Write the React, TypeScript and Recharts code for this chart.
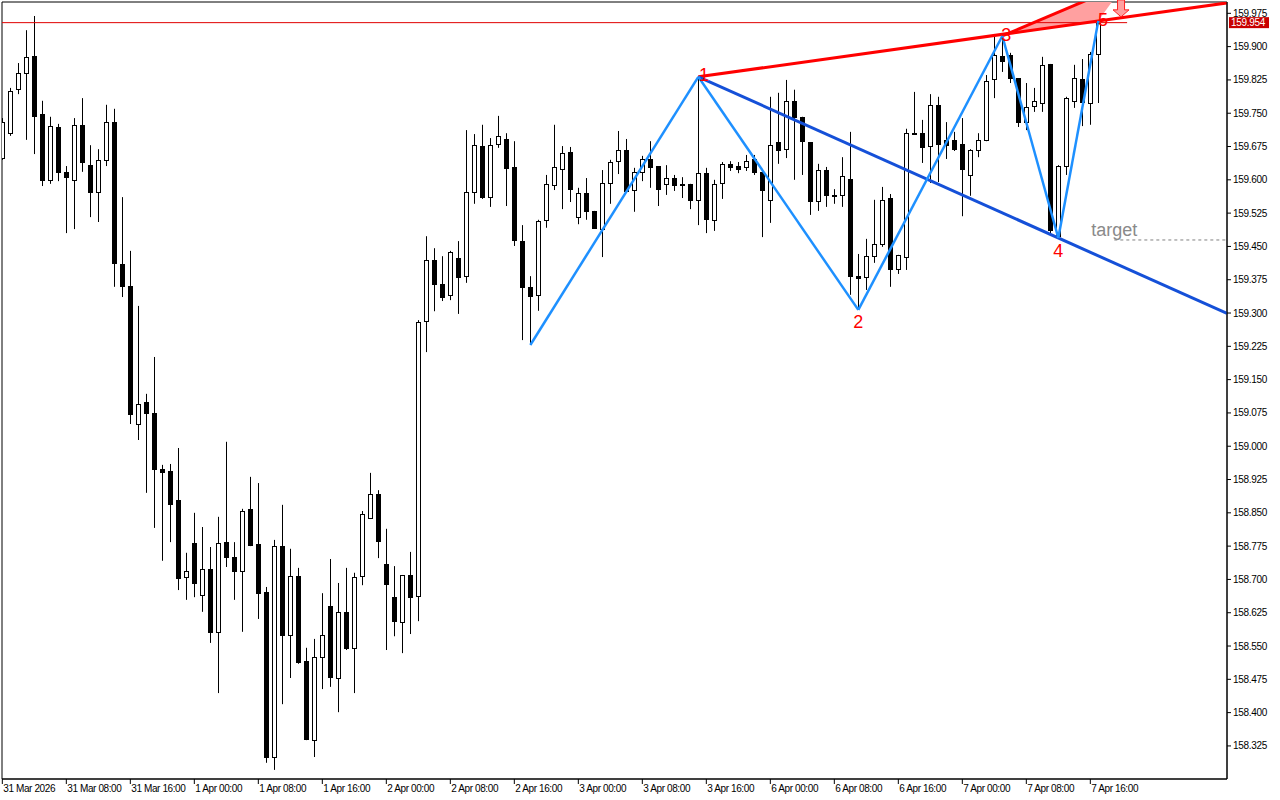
import React from 'react';
import {
  ComposedChart,
  Bar,
  Area,
  XAxis,
  YAxis,
  ReferenceLine,
  ReferenceDot,
  ReferenceArea,
} from 'recharts';

// hourly candles, 31 Mar 00:00 .. 7 Apr 17:00 (weekend skipped)
const opens = [
  159.649, 159.705, 159.805, 159.841, 159.879, 159.748, 159.6, 159.719, 159.618, 159.6,
  159.724, 159.633, 159.573, 159.645, 159.73, 159.41, 159.361, 159.05, 159.1, 159.075,
  158.949, 158.944, 158.879, 158.706, 158.782, 158.665, 158.724, 158.582, 158.784, 158.751,
  158.719, 158.859, 158.78, 158.672, 158.3, 158.775, 158.575, 158.708, 158.516, 158.338,
  158.525, 158.64, 158.478, 158.627, 158.546, 158.708, 158.838, 158.892, 158.735, 158.66,
  158.604, 158.71, 158.663, 159.282, 159.419, 159.365, 159.341, 159.424, 159.383, 159.573,
  159.676, 159.561, 159.681, 159.692, 159.629, 159.462, 159.359, 159.341, 159.51, 159.588,
  159.624, 159.663, 159.516, 159.57, 159.53, 159.489, 159.593, 159.642, 159.667, 159.577,
  159.618, 159.647, 159.631, 159.591, 159.604, 159.591, 159.591, 159.555, 159.615, 159.51,
  159.593, 159.636, 159.631, 159.629, 159.647, 159.618, 159.555, 159.685, 159.669, 159.778,
  159.742, 159.685, 159.552, 159.622, 159.566, 159.566, 159.602, 159.383, 159.381, 159.428,
  159.455, 159.559, 159.399, 159.426, 159.705, 159.705, 159.676, 159.769, 159.69, 159.69,
  159.681, 159.611, 159.667, 159.69, 159.827, 159.879, 159.881, 159.829, 159.73, 159.766,
  159.773, 159.861, 159.473, 159.631, 159.778, 159.827, 159.773, 159.883,
];
const highs = [
  159.739, 159.807, 159.863, 159.937, 159.969, 159.778, 159.742, 159.726, 159.631, 159.739,
  159.784, 159.678, 159.669, 159.769, 159.76, 159.561, 159.44, 159.316, 159.118, 159.201,
  158.958, 158.96, 158.996, 158.76, 158.85, 158.818, 158.773, 158.841, 159.01, 158.784,
  158.859, 158.931, 158.917, 158.683, 158.789, 158.868, 158.769, 158.726, 158.546, 158.566,
  158.669, 158.746, 158.692, 158.726, 158.715, 158.854, 158.94, 158.901, 158.814, 158.73,
  158.71, 158.762, 159.284, 159.473, 159.446, 159.428, 159.44, 159.462, 159.712, 159.703,
  159.724, 159.694, 159.744, 159.705, 159.687, 159.498, 159.383, 159.51, 159.611, 159.724,
  159.676, 159.674, 159.582, 159.604, 159.53, 159.622, 159.645, 159.71, 159.692, 159.627,
  159.654, 159.687, 159.631, 159.633, 159.611, 159.606, 159.591, 159.832, 159.627, 159.6,
  159.64, 159.642, 159.64, 159.656, 159.656, 159.622, 159.787, 159.796, 159.825, 159.803,
  159.742, 159.685, 159.636, 159.629, 159.579, 159.651, 159.708, 159.433, 159.467, 159.555,
  159.584, 159.568, 159.431, 159.715, 159.798, 159.735, 159.793, 159.787, 159.73, 159.708,
  159.739, 159.669, 159.705, 159.836, 159.922, 159.924, 159.886, 159.829, 159.818, 159.807,
  159.877, 159.861, 159.633, 159.787, 159.859, 159.872, 159.888, 159.958,
];
const lows = [
  159.645, 159.699, 159.793, 159.69, 159.658, 159.586, 159.591, 159.597, 159.48, 159.489,
  159.618, 159.516, 159.505, 159.631, 159.359, 159.336, 159.05, 159.014, 158.895, 158.816,
  158.742, 158.784, 158.676, 158.654, 158.66, 158.627, 158.557, 158.444, 158.728, 158.654,
  158.582, 158.775, 158.611, 158.287, 158.271, 158.419, 158.478, 158.51, 158.338, 158.3,
  158.453, 158.458, 158.401, 158.541, 158.444, 158.687, 158.836, 158.748, 158.541, 158.572,
  158.534, 158.577, 158.606, 159.212, 159.304, 159.327, 159.329, 159.298, 159.368, 159.546,
  159.557, 159.539, 159.672, 159.541, 159.451, 159.239, 159.228, 159.305, 159.492, 159.577,
  159.534, 159.55, 159.5, 159.51, 159.491, 159.426, 159.546, 159.613, 159.573, 159.528,
  159.597, 159.582, 159.541, 159.566, 159.575, 159.559, 159.534, 159.498, 159.48, 159.485,
  159.557, 159.62, 159.615, 159.62, 159.611, 159.471, 159.503, 159.636, 159.649, 159.6,
  159.611, 159.521, 159.53, 159.539, 159.546, 159.539, 159.341, 159.307, 159.352, 159.413,
  159.449, 159.359, 159.388, 159.397, 159.703, 159.638, 159.593, 159.595, 159.647, 159.665,
  159.518, 159.564, 159.651, 159.687, 159.784, 159.843, 159.818, 159.719, 159.712, 159.753,
  159.753, 159.48, 159.469, 159.611, 159.762, 159.721, 159.724, 159.773,
];
const closes = [
  159.73, 159.8, 159.841, 159.877, 159.744, 159.6, 159.721, 159.618, 159.606, 159.724,
  159.64, 159.573, 159.645, 159.73, 159.413, 159.361, 159.073, 159.095, 159.075, 158.949,
  158.942, 158.87, 158.703, 158.719, 158.692, 158.724, 158.582, 158.782, 158.751, 158.719,
  158.854, 158.778, 158.669, 158.3, 158.775, 158.575, 158.708, 158.514, 158.341, 158.525,
  158.575, 158.48, 158.627, 158.546, 158.706, 158.847, 158.892, 158.787, 158.69, 158.606,
  158.71, 158.66, 159.28, 159.419, 159.365, 159.336, 159.437, 159.381, 159.573, 159.678,
  159.561, 159.678, 159.699, 159.627, 159.465, 159.359, 159.338, 159.507, 159.591, 159.629,
  159.66, 159.579, 159.57, 159.53, 159.491, 159.593, 159.64, 159.667, 159.575, 159.618,
  159.647, 159.629, 159.579, 159.604, 159.588, 159.59, 159.555, 159.615, 159.512, 159.591,
  159.636, 159.629, 159.624, 159.642, 159.618, 159.577, 159.678, 159.667, 159.778, 159.742,
  159.687, 159.552, 159.622, 159.566, 159.564, 159.609, 159.383, 159.379, 159.428, 159.455,
  159.555, 159.399, 159.431, 159.705, 159.703, 159.674, 159.769, 159.681, 159.678, 159.669,
  159.624, 159.667, 159.69, 159.823, 159.881, 159.868, 159.829, 159.73, 159.764, 159.778,
  159.859, 159.487, 159.631, 159.784, 159.829, 159.775, 159.883, 159.954,
];

const priceTicks = [
  159.975, 159.9, 159.825, 159.75, 159.675, 159.6, 159.525, 159.45, 159.375, 159.3,
  159.225, 159.15, 159.075, 159.0, 158.925, 158.85, 158.775, 158.7, 158.625, 158.55,
  158.475, 158.4, 158.325,
];
const timeTicks = [0, 8, 16, 24, 32, 40, 48, 56, 64, 72, 80, 88, 96, 104, 112, 120, 128, 136];
const timeLabels = [
  '31 Mar 2026', '31 Mar 08:00', '31 Mar 16:00', '1 Apr 00:00', '1 Apr 08:00', '1 Apr 16:00',
  '2 Apr 00:00', '2 Apr 08:00', '2 Apr 16:00', '3 Apr 00:00', '3 Apr 08:00', '3 Apr 16:00',
  '6 Apr 00:00', '6 Apr 08:00', '6 Apr 16:00', '7 Apr 00:00', '7 Apr 08:00', '7 Apr 16:00',
];

// wave pivots: start, 1, 2, 3, 4, 5
const waveIdx = [66, 87, 107, 125, 132, 137];
const wavePrice = [159.228, 159.832, 159.307, 159.924, 159.469, 159.958];
const waveNames = ['1', '2', '3', '4', '5'];
const waveLabelIdx = [87.7, 107, 125.5, 132, 137.6];
const waveLabelPrice = [159.838, 159.28, 159.928, 159.44, 159.962];

// triangle: point 3, point 5, apex above the chart
const triIdx = [125, 137, 140.3];
const triLow = [159.924, 159.958, 160.041];
const triHigh = [159.924, 160.016, 160.041];

const lastPrice = 159.954;
const targetPrice = 159.4645;

const X_MIN = -0.04;
const X_MAX = 153.085;
const Y_MIN = 158.2505;
const Y_MAX = 160.0005;

const FONT = '"Liberation Sans", Arial, sans-serif';

const candles = opens.map((o, i) => ({ i, open: o, high: highs[i], low: lows[i], close: closes[i] }));
const triangle = triIdx.map((i, n) => ({ i, band: [triLow[n], triHigh[n]] }));

const Candle = (props: any) => {
  const { x, y, width, height, payload } = props;
  if (!payload || height == null) return null;
  const top = Math.min(y, y + height);
  const bottom = Math.max(y, y + height);
  const range = payload.high - payload.low || 1e-9;
  const toY = (v: number) => top + ((payload.high - v) / range) * (bottom - top);
  const mid = Math.round(x + width / 2);
  const up = payload.close >= payload.open;
  const yTop = Math.round(toY(Math.max(payload.open, payload.close)));
  const yBot = Math.round(toY(Math.min(payload.open, payload.close)));
  return (
    <g>
      <line x1={mid + 0.5} x2={mid + 0.5} y1={top} y2={bottom} stroke="#000" strokeWidth={1} />
      {up ? (
        <rect x={mid - 1.5} y={yTop + 0.5} width={4} height={Math.max(yBot - yTop, 1)} fill="#fff" stroke="#000" strokeWidth={1} />
      ) : (
        <rect x={mid - 2} y={yTop} width={5} height={Math.max(yBot - yTop + 1, 2)} fill="#000" />
      )}
    </g>
  );
};

const TimeTick = ({ x, y, payload }: any) => (
  <text x={x + 1} y={y} dy={8} fontSize={10} fontFamily={FONT} letterSpacing={-0.4} fill="#000" textAnchor="start">
    {timeLabels[timeTicks.indexOf(payload.value)]}
  </text>
);

const PriceBox = ({ cx, cy }: any) => (
  <g>
    <rect x={cx + 2} y={cy - 5.5} width={40} height={11} fill="#c80000" />
    <text x={cx + 4} y={cy} dy={3.5} fontSize={10} fontFamily={FONT} letterSpacing={-0.3} fill="#fff">
      {lastPrice.toFixed(3)}
    </text>
  </g>
);

const Arrow = ({ cx, cy }: any) => (
  <path
    d={`M${cx},${cy} L${cx - 8},${cy - 7} L${cx - 3.5},${cy - 7} L${cx - 3.5},${cy - 17} L${cx + 3.5},${cy - 17} L${cx + 3.5},${cy - 7} L${cx + 8},${cy - 7} Z`}
    fill="#ffa0a0"
    stroke="#ff2020"
    strokeWidth={1}
  />
);

const textShape = (txt: string, color: string, size: number) => ({ cx, cy }: any) => (
  <text x={cx} y={cy} dy={size * 0.36} textAnchor="middle" fontSize={size} fontFamily={FONT} fill={color}>
    {txt}
  </text>
);

export default function App() {
  return (
    <div style={{ position: 'absolute', left: 0, top: 0, width: 1280, height: 800, background: '#fff' }}>
      <ComposedChart
        width={1280}
        height={800}
        data={candles}
        margin={{ top: 2, right: 0, bottom: 0, left: 2 }}
      >
        <XAxis
          dataKey="i"
          type="number"
          domain={[X_MIN, X_MAX]}
          allowDataOverflow
          ticks={timeTicks}
          interval={0}
          height={21}
          tickSize={5}
          tickMargin={0}
          tick={<TimeTick />}
          axisLine={{ stroke: '#000' }}
          tickLine={{ stroke: '#000' }}
        />
        <YAxis
          orientation="right"
          type="number"
          domain={[Y_MIN, Y_MAX]}
          allowDataOverflow
          ticks={priceTicks}
          interval={0}
          width={53}
          tickSize={4}
          tickMargin={2}
          tickFormatter={(v: number) => v.toFixed(3)}
          tick={{ fontSize: 10, fontFamily: FONT, fill: '#000', letterSpacing: -0.3 }}
          axisLine={{ stroke: '#000' }}
          tickLine={{ stroke: '#000' }}
        />
        <ReferenceArea x1={X_MIN} x2={X_MAX} y1={Y_MIN} y2={Y_MAX} fill="none" stroke="#000" strokeWidth={1} ifOverflow="visible" />

        <Bar dataKey={(d: any) => [d.low, d.high]} barSize={5} shape={<Candle />} isAnimationActive={false} />

        <Area
          data={triangle}
          dataKey="band"
          type="linear"
          stroke="none"
          fill="#ffa0a0"
          fillOpacity={1}
          isAnimationActive={false}
        />

        {waveNames.map((name, n) => (
          <ReferenceDot
            key={`lbl-${name}`}
            x={waveLabelIdx[n]}
            y={waveLabelPrice[n]}
            r={0}
            ifOverflow="visible"
            shape={textShape(name, '#ff0000', 18)}
          />
        ))}

        <ReferenceLine
          segment={[{ x: X_MIN, y: lastPrice }, { x: 140.6, y: lastPrice }]}
          stroke="#e00000"
          strokeWidth={1}
          ifOverflow="hidden"
        />
        <ReferenceLine
          segment={[{ x: 139, y: targetPrice }, { x: X_MAX, y: targetPrice }]}
          stroke="#808080"
          strokeDasharray="3 3"
          strokeWidth={1}
          ifOverflow="hidden"
        />
        <ReferenceLine
          segment={[{ x: waveIdx[1], y: wavePrice[1] }, { x: X_MAX, y: 159.9985 }]}
          stroke="#ff0000"
          strokeWidth={3}
          ifOverflow="hidden"
        />
        <ReferenceLine
          segment={[{ x: triIdx[0], y: triHigh[0] }, { x: triIdx[2], y: triHigh[2] }]}
          stroke="#ff0000"
          strokeWidth={3}
          ifOverflow="hidden"
        />
        <ReferenceLine
          segment={[{ x: waveIdx[1], y: wavePrice[1] }, { x: X_MAX, y: 159.299 }]}
          stroke="#1550d8"
          strokeWidth={3}
          ifOverflow="hidden"
        />
        {waveIdx.slice(1).map((idx, n) => (
          <ReferenceLine
            key={`leg-${n}`}
            segment={[{ x: waveIdx[n], y: wavePrice[n] }, { x: idx, y: wavePrice[n + 1] }]}
            stroke="#1e90ff"
            strokeWidth={2.5}
            ifOverflow="hidden"
          />
        ))}

        <ReferenceDot x={139.84} y={159.967} r={0} ifOverflow="hidden" shape={<Arrow />} />
        <ReferenceDot x={139} y={159.487} r={0} ifOverflow="visible" shape={textShape('target', '#8a8a8a', 18)} />
        <ReferenceDot x={X_MAX} y={lastPrice} r={0} ifOverflow="visible" shape={<PriceBox />} />
      </ComposedChart>
    </div>
  );
}
